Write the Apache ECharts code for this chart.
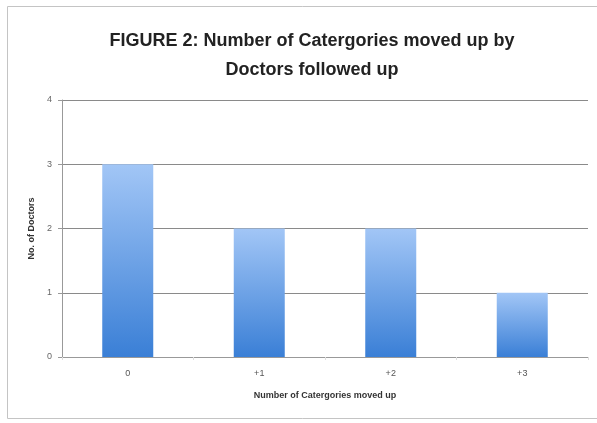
<!DOCTYPE html>
<html>
<head>
    <meta charset="utf-8">
    <title>FIGURE 2</title>
    <script src="https://cdn.jsdelivr.net/npm/echarts@6/dist/echarts.min.js"></script>
</head>
<body style="margin:0;background:#fff">
<div id="main" style="width:597px;height:423px"></div>
<script>
    // data
    let categories = ['0', '+1', '+2', '+3'];
    let doctors = [3, 2, 2, 1];
    let yTicks = [0, 1, 2, 3, 4];

    var myChart = echarts.init(document.getElementById('main'));

    myChart.setOption({
        animation: false,
        textStyle: {fontFamily: 'Liberation Sans'},
        title: {
            text: 'FIGURE 2: Number of Catergories moved up by\nDoctors followed up',
            left: 307,
            textAlign: 'center',
            top: 22,
            textStyle: {
                fontFamily: 'Liberation Sans',
                fontSize: 18,
                fontWeight: 'bold',
                color: '#222',
                lineHeight: 29
            }
        },
        graphic: [
            {
                type: 'rect',
                shape: {x: 7.5, y: 6.5, width: 600, height: 412},
                style: {fill: 'none', stroke: '#c4c4c4', lineWidth: 1}
            }
        ],
        grid: {left: 62, right: 9, top: 100, bottom: 66},
        xAxis: {
            type: 'category',
            data: categories,
            name: 'Number of Catergories moved up',
            nameLocation: 'middle',
            nameGap: 34,
            nameTextStyle: {fontSize: 9, fontWeight: 'bold', color: '#333'},
            axisLine: {lineStyle: {color: '#999'}},
            axisTick: {show: true, length: 3, lineStyle: {color: '#ddd'}},
            axisLabel: {fontSize: 9, color: '#555', margin: 12}
        },
        yAxis: {
            type: 'value',
            min: yTicks[0],
            max: yTicks[yTicks.length - 1],
            interval: 1,
            name: 'No. of Doctors',
            nameLocation: 'middle',
            nameGap: 24,
            nameRotate: 90,
            nameTextStyle: {fontSize: 9, fontWeight: 'bold', color: '#333'},
            axisLine: {show: true, lineStyle: {color: '#999'}},
            axisTick: {show: true, length: 4, lineStyle: {color: '#999'}},
            axisLabel: {fontSize: 9, color: '#666', margin: 10},
            splitLine: {lineStyle: {color: '#8a8a8a', width: 1}}
        },
        series: [
            {
                type: 'bar',
                data: doctors,
                barWidth: 51,
                itemStyle: {
                    color: new echarts.graphic.LinearGradient(0, 0, 0, 1, [
                        {offset: 0, color: '#a2c6f6'},
                        {offset: 1, color: '#3a7fd6'}
                    ])
                }
            }
        ]
    });
</script>
</body>
</html>
